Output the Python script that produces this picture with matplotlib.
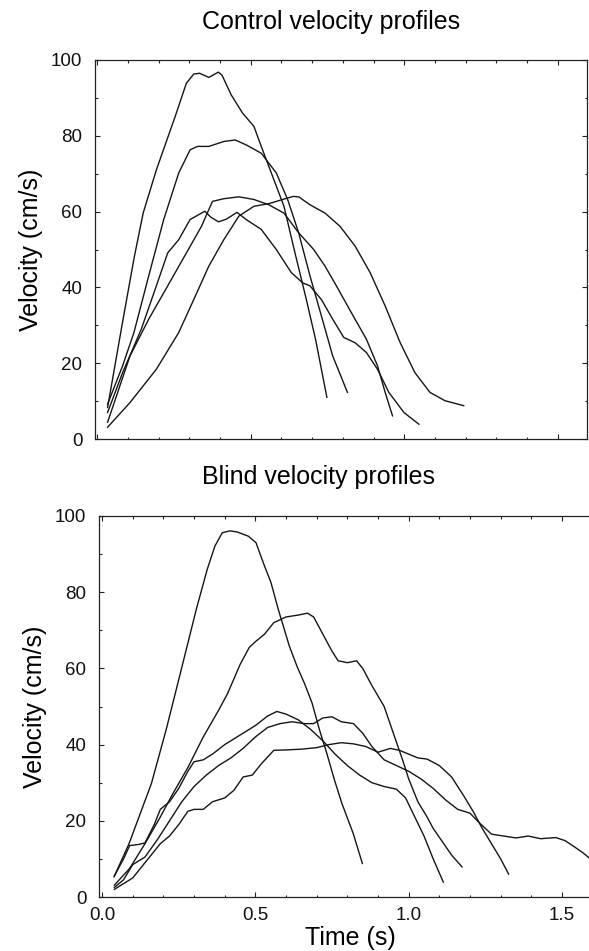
import matplotlib
matplotlib.use('Agg')
import matplotlib.pyplot as plt
from matplotlib.ticker import MultipleLocator

plt.rcParams['font.family'] = ['Liberation Sans', 'DejaVu Sans']

# Control velocity profiles (time in s, velocity in cm/s)
ctrl_a_t = [0.033, 0.08, 0.12, 0.149, 0.192, 0.253, 0.29, 0.314, 0.333, 0.363, 0.394, 0.406, 0.436,
            0.473, 0.51, 0.534, 0.571, 0.608, 0.644, 0.681, 0.711, 0.748]
ctrl_a_v = [8.3, 30, 48, 59.6, 71, 85, 93.9, 96.3, 96.5, 95.4, 96.8, 96, 90.8,
            86, 82.5, 77.2, 69.3, 61.4, 49.1, 36.8, 26.3, 11]

ctrl_b_t = [0.033, 0.082, 0.119, 0.167, 0.216, 0.265, 0.302, 0.326, 0.363, 0.412, 0.449, 0.485, 0.534,
            0.583, 0.62, 0.656, 0.693, 0.73, 0.767, 0.815]
ctrl_b_v = [9.2, 19.3, 28.1, 43, 57.9, 70.2, 76.3, 77.2, 77.2, 78.5, 78.9, 77.6, 75.4,
            70.2, 63.2, 54.4, 43, 32.5, 21.9, 12.3]

ctrl_c_t = [0.033, 0.106, 0.167, 0.229, 0.29, 0.339, 0.375, 0.412, 0.461, 0.51, 0.559, 0.608, 0.656,
            0.705, 0.742, 0.779, 0.828, 0.877, 0.913, 0.938, 0.962]
ctrl_c_v = [4.4, 21.9, 31.6, 40.4, 49.1, 56.1, 62.7, 63.4, 63.9, 63.2, 61.8, 59.6, 54.4,
            50, 45.6, 40.4, 33.3, 26.3, 19.3, 12.3, 6.1]

ctrl_d_t = [0.033, 0.082, 0.143, 0.192, 0.229, 0.265, 0.302, 0.35, 0.37, 0.395, 0.42, 0.455, 0.485,
            0.534, 0.583, 0.632, 0.669, 0.693, 0.73, 0.767, 0.803, 0.84, 0.877, 0.913, 0.95, 0.999, 1.048]
ctrl_d_v = [7, 17.5, 29, 40.4, 49.1, 52.6, 57.9, 60.1, 58.5, 57.3, 58, 59.8, 57.9,
            55.3, 50, 43.9, 41.2, 40.4, 36.8, 31.6, 26.8, 25.4, 22.8, 18.4, 12.3, 7, 3.9]

ctrl_e_t = [0.033, 0.106, 0.192, 0.265, 0.314, 0.363, 0.412, 0.461, 0.51, 0.559, 0.608, 0.638, 0.656,
            0.693, 0.742, 0.791, 0.84, 0.889, 0.938, 0.987, 1.035, 1.084, 1.133, 1.194]
ctrl_e_v = [3.1, 9.6, 18.4, 28.1, 36.8, 45.6, 52.6, 58.8, 61.4, 62.1, 63.3, 64, 63.9,
            61.8, 59.6, 56.1, 50.9, 43.9, 35.1, 25.4, 17.5, 12.3, 10.1, 8.8]

# Blind velocity profiles
blind_f_t = [0.039, 0.088, 0.161, 0.209, 0.258, 0.307, 0.343, 0.368, 0.392, 0.417, 0.441, 0.477, 0.502,
             0.526, 0.551, 0.575, 0.611, 0.636, 0.66, 0.685, 0.709, 0.733, 0.758, 0.782, 0.819, 0.849]
blind_f_v = [5.3, 14, 29.8, 43.9, 59.6, 75.4, 86, 92.1, 95.6, 96.1, 95.8, 94.7, 93,
             87.7, 82.5, 75.4, 65.8, 60.5, 56.1, 50.9, 43.9, 37.7, 30.7, 24.6, 16.7, 8.8]

blind_g_t = [0.04, 0.09, 0.14, 0.19, 0.23, 0.28, 0.33, 0.38, 0.41, 0.45, 0.48, 0.5, 0.53, 0.56, 0.6,
             0.64, 0.67, 0.69, 0.72, 0.75, 0.77, 0.8, 0.83, 0.85, 0.88, 0.92, 0.95, 0.98, 1.0, 1.03,
             1.06, 1.08, 1.11, 1.14, 1.174]
blind_g_v = [3.1, 7.5, 14, 21, 27, 34, 42, 49, 53.5, 61, 65.5, 67, 69, 72, 73.5,
             74, 74.5, 73.5, 69, 64.5, 62, 61.5, 62, 60, 55.5, 50, 43, 36, 31, 25,
             21, 18, 14.5, 11, 7.9]

blind_h_t = [0.04, 0.07, 0.09, 0.12, 0.14, 0.17, 0.19, 0.22, 0.25, 0.28, 0.3, 0.33, 0.36, 0.4, 0.45,
             0.5, 0.54, 0.57, 0.6, 0.64, 0.68, 0.72, 0.76, 0.8, 0.84, 0.88, 0.92, 0.96, 0.99, 1.02,
             1.05, 1.08, 1.113]
blind_h_v = [5.5, 10, 13.5, 13.8, 14.2, 19, 23, 25, 28.5, 33, 35.5, 36, 37.5, 40, 42.5,
             45, 47.5, 48.7, 48, 46.5, 44, 41, 37.5, 34.5, 32, 30, 29, 28.3, 26, 21,
             16, 10, 3.9]

blind_i_t = [0.04, 0.07, 0.1, 0.14, 0.18, 0.22, 0.26, 0.3, 0.34, 0.38, 0.42, 0.46, 0.5, 0.54, 0.58,
             0.62, 0.66, 0.69, 0.72, 0.75, 0.78, 0.82, 0.85, 0.88, 0.92, 0.96, 1.0, 1.04, 1.08, 1.12,
             1.16, 1.2, 1.23, 1.27, 1.31, 1.35, 1.39, 1.43, 1.48, 1.51, 1.54, 1.57, 1.6, 1.63]
blind_i_v = [2.5, 4.5, 8.5, 10.5, 15, 20, 25, 29, 32, 34.5, 36.5, 39, 42, 44.5, 45.5,
             46, 45.5, 45.5, 47, 47.3, 46, 45.5, 43, 39.5, 36, 34.5, 33, 31, 28.5, 25.5,
             23, 22, 19.5, 16.5, 16, 15.5, 16, 15.3, 15.6, 14.8, 13.2, 11.5, 9.5, 8]

blind_j_t = [0.04, 0.07, 0.1, 0.13, 0.16, 0.19, 0.22, 0.25, 0.28, 0.3, 0.33, 0.36, 0.4, 0.43, 0.46,
             0.49, 0.52, 0.56, 0.6, 0.65, 0.7, 0.74, 0.78, 0.82, 0.86, 0.9, 0.94, 0.97, 1.0, 1.03,
             1.06, 1.1, 1.14, 1.18, 1.21, 1.24, 1.27, 1.3, 1.326]
blind_j_v = [2, 3.5, 5, 8, 11, 14, 16, 19, 22.5, 23, 23, 25, 26, 28, 31.5,
             32, 35, 38.5, 38.6, 38.8, 39.2, 40, 40.5, 40.2, 39.5, 38, 39, 38.5, 37.5, 36.5,
             36.2, 34.5, 31.5, 26.5, 22.5, 18, 14, 10, 6]

control = [(ctrl_a_t, ctrl_a_v), (ctrl_b_t, ctrl_b_v), (ctrl_c_t, ctrl_c_v),
           (ctrl_d_t, ctrl_d_v), (ctrl_e_t, ctrl_e_v)]
blind = [(blind_f_t, blind_f_v), (blind_g_t, blind_g_v), (blind_h_t, blind_h_v),
         (blind_i_t, blind_i_v), (blind_j_t, blind_j_v)]

W, H = 589, 951
fig = plt.figure(figsize=(W / 100, H / 100), dpi=100)
fig.patch.set_facecolor('white')


def px_axes(left, top, right, bottom):
    return fig.add_axes([left / W, 1 - bottom / H, (right - left) / W, (bottom - top) / H])


def style(ax, xlim, show_xlabels):
    ax.set_xlim(*xlim)
    ax.set_ylim(0, 100)
    ax.xaxis.set_major_locator(MultipleLocator(0.5))
    ax.xaxis.set_minor_locator(MultipleLocator(0.1))
    ax.yaxis.set_major_locator(MultipleLocator(20))
    ax.yaxis.set_minor_locator(MultipleLocator(10))
    ax.tick_params(which='both', direction='in', top=True, right=True, width=0.8, colors='#222222',
                   labelcolor='#111111', labelsize=13.5)
    ax.tick_params(which='major', length=3.3)
    ax.tick_params(which='minor', length=1.8)
    ax.tick_params(axis='y', pad=9)
    ax.tick_params(axis='x', pad=7, labelbottom=show_xlabels)
    ax.xaxis.set_major_formatter(plt.FuncFormatter(lambda v, p: '%.1f' % v))
    for s in ax.spines.values():
        s.set_linewidth(0.9)
        s.set_color('#222222')
    ax.set_ylabel('Velocity (cm/s)', fontsize=18, labelpad=6)


# top panel: control
ax1 = px_axes(95, 60, 587, 439)
for t, v in control:
    ax1.plot(t, v, color='#151515', lw=1.0)
style(ax1, (-0.008, 1.596), False)
fig.text(331 / W, 1 - 22 / H, 'Control velocity profiles', ha='center', va='center', fontsize=18)

# bottom panel: blind (runs off the right edge like the scan)
ax2 = px_axes(99, 516, 600, 897)
for t, v in blind:
    ax2.plot(t, v, color='#151515', lw=1.0)
style(ax2, (-0.01, 1.624), True)
ax2.spines['right'].set_visible(False)
fig.text(318 / W, 1 - 477 / H, 'Blind velocity profiles', ha='center', va='center', fontsize=18)
fig.text(350 / W, 1 - 938 / H, 'Time (s)', ha='center', va='center', fontsize=18)

fig.savefig('out.png', dpi=100, facecolor='white')
